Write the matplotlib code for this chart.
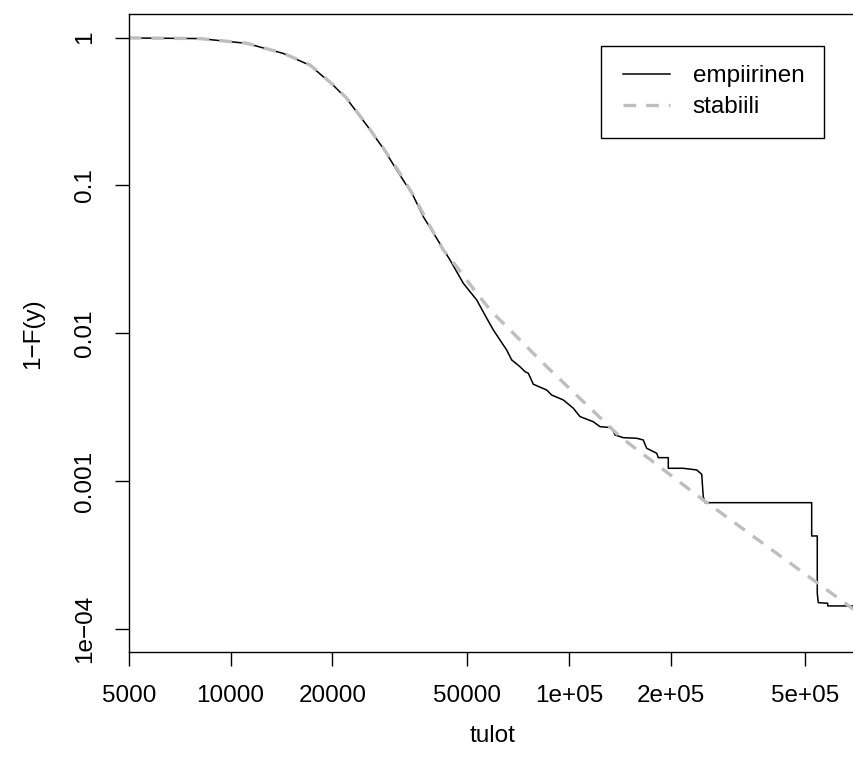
import matplotlib
matplotlib.use("Agg")
import matplotlib.pyplot as plt
from matplotlib.legend_handler import HandlerLine2D

plt.rcParams['font.family'] = ['Liberation Sans', 'DejaVu Sans']

# stable fit
stable_x = [5000, 8120, 11160, 14320, 17170, 20120, 22050, 25250, 28270, 30970,
            34670, 38400, 42520, 46590, 53380, 59100, 66960, 85950, 110300,
            141500, 249400, 676800, 705000]
stable_y = [0.996, 0.986, 0.917, 0.784, 0.654, 0.479, 0.389, 0.257, 0.179, 0.131,
            0.0862, 0.0555, 0.0366, 0.0282, 0.01865, 0.0140, 0.01053, 0.00594,
            0.003445, 0.001998, 0.000745, 0.0001413, 0.000132]

# empirical survival function (corners of the steps)
emp_x = [5000, 8120, 11160, 14320, 17170, 20120, 22050, 25250, 28270, 30970,
         34670, 37120, 44520, 48720, 53380, 57150, 59770, 65460, 67730, 71660,
         74150, 75850, 78470, 85950, 88910, 96200, 103000, 107800, 118000, 123500,
         133750, 136800, 144700, 158500, 165800, 169700, 181700, 183700, 196600,
         196600, 217700, 238500, 246800, 249400, 252400, 521600, 521600, 541800,
         541800, 545500, 581500, 581500, 705000]
emp_y = [0.996, 0.986, 0.915, 0.782, 0.650, 0.476, 0.386, 0.256, 0.178, 0.1273,
         0.085, 0.0615, 0.0313, 0.0218, 0.0168, 0.01264, 0.01053, 0.0077, 0.0066,
         0.00594, 0.0055, 0.00536, 0.00452, 0.00413, 0.00382, 0.00354, 0.00311,
         0.00273, 0.00252, 0.002334, 0.002297, 0.00205, 0.001966, 0.001948,
         0.001897, 0.001667, 0.001542, 0.00144, 0.00144, 0.00122, 0.00122,
         0.001189, 0.001112, 0.000784, 0.000714, 0.000714, 0.000425, 0.000425,
         0.000174, 0.0001504, 0.000149, 0.0001429, 0.0001429]

x_ticks = [5000, 10000, 20000, 50000, 1e5, 2e5, 5e5]
x_labels = ["5000", "10000", "20000", "50000", "1e+05", "2e+05", "5e+05"]
y_ticks = [1, 0.1, 0.01, 0.001, 1e-4]
y_labels = ["1", "0.1", "0.01", "0.001", "1e\u221204"]

FS = 17.5

fig = plt.figure(figsize=(8.54, 7.74), dpi=100)
ax = fig.add_axes([0.1507, 0.157, 1.0023 - 0.1507, 0.9818 - 0.157])

ax.plot(emp_x, emp_y, color="black", lw=1.1, label="empiirinen")
ax.plot(stable_x, stable_y, color="#bebebe", lw=2.4, dashes=(3.8, 3.0),
        label="stabiili")

ax.set_xscale("log")
ax.set_yscale("log")
ax.set_xlim(5000, 705000)
ax.set_ylim(6.92e-5, 1.444)
ax.minorticks_off()
ax.set_xticks(x_ticks)
ax.set_xticklabels(x_labels)
ax.set_yticks(y_ticks)
ax.set_yticklabels(y_labels, rotation=90, va="center")
ax.tick_params(axis="both", length=10.4, width=1.0, labelsize=FS, direction="out")
ax.tick_params(axis="x", pad=13)
ax.tick_params(axis="y", pad=13)
for s in ax.spines.values():
    s.set_linewidth(1.0)

ax.set_xlabel("tulot", fontsize=FS, labelpad=13)
ax.set_ylabel("1\u2212F(y)", fontsize=FS, labelpad=22)

leg = ax.legend(loc="upper right", bbox_to_anchor=(0.956, 0.950),
                borderaxespad=0, fontsize=FS, fancybox=False, framealpha=1,
                edgecolor="black", borderpad=0.8, handlelength=2.04,
                handletextpad=0.95, labelspacing=0.37,
                handler_map={plt.Line2D: HandlerLine2D(xpad=0.11)})
leg.get_frame().set_linewidth(1.0)

fig.savefig("out.png", dpi=100)
